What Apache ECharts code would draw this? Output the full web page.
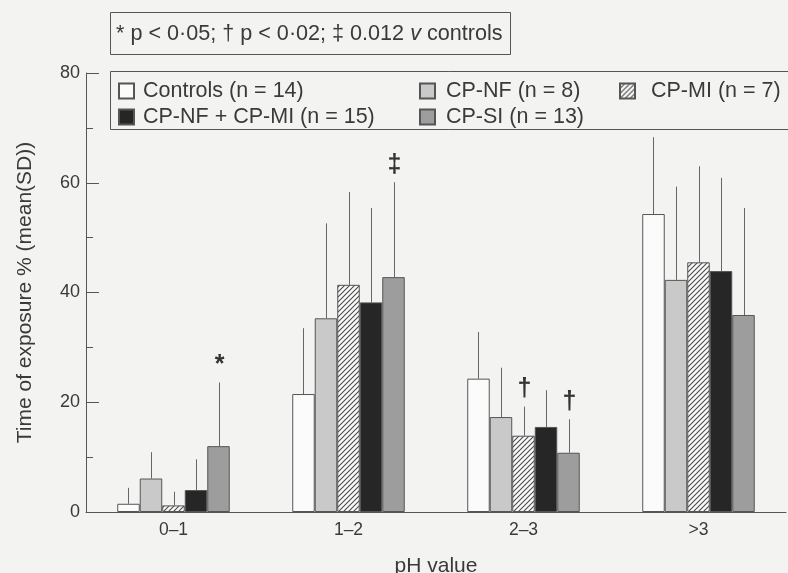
<!DOCTYPE html>
<html><head><meta charset="utf-8">
<script src="https://cdn.jsdelivr.net/npm/echarts@6/dist/echarts.min.js"></script>
<style>html,body{margin:0;padding:0;background:#f3f3f1;}#c{width:788px;height:573px;}</style>
</head><body><div id="c"></div>
<script>
// ---- data ----
const categories = ['0\u20131', '1\u20132', '2\u20133', '>3'];
const seriesNames = ['Controls (n = 14)', 'CP-NF (n = 8)', 'CP-MI (n = 7)', 'CP-NF + CP-MI (n = 15)', 'CP-SI (n = 13)'];
const controlsMean = [1.5, 21.5, 24.3, 54.3];
const controlsSD   = [2.9, 12.0, 8.5, 14.0];
const cpnfMean     = [6.1, 35.3, 17.3, 42.3];
const cpnfSD       = [4.8, 17.3, 9.0, 17.0];
const cpmiMean     = [1.2, 41.4, 13.9, 45.5];
const cpmiSD       = [2.5, 16.9, 5.3, 17.5];
const combMean     = [4.0, 38.2, 15.5, 43.9];
const combSD       = [5.6, 17.2, 6.7, 17.0];
const cpsiMean     = [12.0, 42.8, 10.8, 35.9];
const cpsiSD       = [11.6, 17.3, 6.1, 19.5];
const controlsMarks = ['', '', '', ''];
const cpnfMarks     = ['', '', '', ''];
const cpmiMarks     = ['', '', '\u2020', ''];
const combMarks     = ['', '', '', ''];
const cpsiMarks     = ['*', '\u2021', '\u2020', ''];
const yTicks = [0, 20, 40, 60, 80];
const noteText = '* p < 0\u00b705; \u2020 p < 0\u00b702; \u2021 0.012 ';
const noteItalic = 'v';
const noteEnd = ' controls';

const means = [controlsMean, cpnfMean, cpmiMean, combMean, cpsiMean];
const sds = [controlsSD, cpnfSD, cpmiSD, combSD, cpsiSD];
const marks = [controlsMarks, cpnfMarks, cpmiMarks, combMarks, cpsiMarks];

// ---- styles ----
const FONT = 'Liberation Sans, Arial, Helvetica, sans-serif';
const TXT = '#3a3a3a';
const EDGE = '#555';
function hatch() {
  const c = document.createElement('canvas');
  c.width = 5; c.height = 5;
  const g = c.getContext('2d');
  g.fillStyle = '#fafafa'; g.fillRect(0, 0, 5, 5);
  g.strokeStyle = '#4a4a4a'; g.lineWidth = 1.1;
  g.beginPath();
  g.moveTo(0, 5); g.lineTo(5, 0);
  g.moveTo(-1, 1); g.lineTo(1, -1);
  g.moveTo(4, 6); g.lineTo(6, 4);
  g.stroke();
  return c;
}
const fills = ['#fbfbfb', '#c9c9c9', { image: hatch(), repeat: 'repeat' }, '#262626', '#9d9d9d'];
const CAT_GAP = 0.357;

const barSeries = seriesNames.map((n, i) => ({
  name: n, type: 'bar', data: means[i],
  barGap: '0%', barCategoryGap: (CAT_GAP * 100) + '%',
  itemStyle: { color: fills[i], borderColor: EDGE, borderWidth: 1 },
  emphasis: { disabled: true }, z: 2
}));

const errData = [];
const errMarks = [];
for (let k = 0; k < 5; k++) for (let c = 0; c < categories.length; c++) {
  errData.push([c, means[k][c], sds[k][c], k]);
  errMarks.push(marks[k][c]);
}
const errSeries = {
  type: 'custom', name: 'err', data: errData, z: 3, silent: true,
  renderItem: function (params, api) {
    const c = api.value(0), m = api.value(1), s = api.value(2), k = api.value(3);
    const band = api.size([1, 0])[0];
    const bw = band * (1 - CAT_GAP) / 5;
    const x = Math.round(api.coord([c, 0])[0] + (k - 2) * bw) + 0.5;
    const y1 = api.coord([c, m])[1];
    const y2 = api.coord([c, m + s])[1];
    const children = [{ type: 'line', shape: { x1: x, y1: y1, x2: x, y2: y2 }, style: { stroke: '#666', lineWidth: 1 } }];
    const mk = errMarks[params.dataIndex];
    if (mk) children.push({ type: 'text', x: x, y: y2 - 5, style: { text: mk, fill: '#333', font: 'bold 25px ' + FONT, align: 'center', verticalAlign: 'bottom' } });
    return { type: 'group', children: children };
  }
};

const legendPos = [[118, 80], [419, 80], [619, 80], [118, 106], [419, 106]];
const legendPad = [4, 6, 11, 4, 6];
const legends = seriesNames.map((n, i) => ({
  data: [n], left: legendPos[i][0], top: legendPos[i][1], padding: 0,
  itemWidth: 15, itemHeight: 15, itemGap: 0, icon: 'rect', selectedMode: false,
  textStyle: { fontFamily: FONT, fontSize: 21.5, color: TXT, padding: [0, 0, 0, legendPad[i]], lineHeight: 20 }
}));

const chart = echarts.init(document.getElementById('c'), null, { renderer: 'canvas' });
chart.setOption({
  backgroundColor: '#f3f3f1',
  animation: false,
  grid: { left: 86, right: 2, top: 73, bottom: 61, containLabel: false, outerBoundsMode: 'none' },
  legend: legends,
  xAxis: {
    type: 'category', data: categories,
    axisLine: { lineStyle: { color: EDGE, width: 1 } },
    axisTick: { show: false },
    axisLabel: { fontFamily: FONT, fontSize: 17.5, color: TXT, margin: 9 },
    name: 'pH value', nameLocation: 'middle', nameGap: 44,
    nameTextStyle: { fontFamily: FONT, fontSize: 21, color: TXT }
  },
  yAxis: {
    type: 'value', min: yTicks[0], max: yTicks[yTicks.length - 1], interval: 20,
    axisLine: { show: true, lineStyle: { color: EDGE, width: 1 } },
    axisTick: { show: true, inside: true, length: 13, lineStyle: { color: EDGE } },
    minorTick: { show: true, splitNumber: 2, length: 7, lineStyle: { color: EDGE } },
    splitLine: { show: false },
    axisLabel: { fontFamily: FONT, fontSize: 18, color: TXT, margin: 6 },
    name: 'Time of exposure % (mean(SD))', nameLocation: 'middle', nameGap: 50,
    nameTextStyle: { fontFamily: FONT, fontSize: 21, color: TXT }
  },
  series: barSeries.concat([errSeries]),
  graphic: [
    { type: 'rect', shape: { x: 110.5, y: 12.5, width: 400, height: 42 }, style: { fill: 'none', stroke: EDGE, lineWidth: 1 }, silent: true },
    { type: 'text', x: 116, y: 34, style: {
        text: '{a|' + noteText + '}{i|' + noteItalic + '}{a|' + noteEnd + '}',
        verticalAlign: 'middle', fill: TXT,
        rich: { a: { fontFamily: FONT, fontSize: 21.6, fill: TXT }, i: { fontFamily: FONT, fontSize: 21.6, fontStyle: 'italic', fill: TXT } }
      }, silent: true },
    { type: 'rect', shape: { x: 110.5, y: 71.5, width: 700, height: 58 }, style: { fill: 'none', stroke: EDGE, lineWidth: 1 }, silent: true }
  ]
});
</script></body></html>
